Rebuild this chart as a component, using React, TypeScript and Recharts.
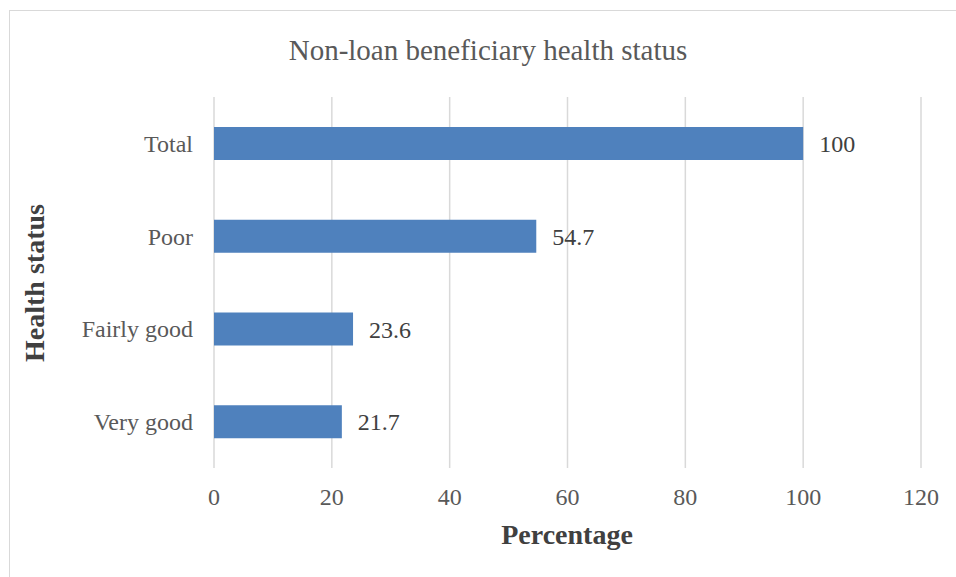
import React from 'react';
import { BarChart, Bar, XAxis, YAxis, CartesianGrid, LabelList } from 'recharts';

const categories = ['Total', 'Poor', 'Fairly good', 'Very good'];
const values = [100, 54.7, 23.6, 21.7];
const xTicks = [0, 20, 40, 60, 80, 100, 120];

const data = categories.map((c, i) => ({ name: c, value: values[i] }));

const FONT = '"Liberation Serif", "Times New Roman", serif';

export default function App() {
  return (
    <div style={{ position: 'absolute', left: 0, top: 0, width: 956, height: 577, overflow: 'hidden', background: '#fff', fontFamily: FONT }}>
      <div style={{ position: 'absolute', left: 9, top: 10, width: 960, height: 580, border: '1px solid #d9d9d9', boxSizing: 'border-box' }} />
      <div style={{ position: 'absolute', left: 0, top: 50, width: 976, textAlign: 'center', fontSize: 29, lineHeight: '0px', color: '#595959' }}>
        Non-loan beneficiary health status
      </div>
      <div style={{ position: 'absolute', left: 0, top: 535, width: 1134, textAlign: 'center', fontSize: 28, lineHeight: '0px', fontWeight: 'bold', color: '#404040' }}>
        Percentage
      </div>
      <div style={{ position: 'absolute', left: 35, top: 283, transform: 'translate(-50%, -50%) rotate(-90deg)', whiteSpace: 'nowrap', fontSize: 28, lineHeight: '30px', fontWeight: 'bold', color: '#404040' }}>
        Health status
      </div>
      <div style={{ position: 'absolute', left: 0, top: 0 }}>
        <BarChart
          width={956}
          height={577}
          data={data}
          layout="vertical"
          margin={{ top: 97, right: 35, bottom: 59, left: 114 }}
        >
          <CartesianGrid horizontal={false} vertical={true} stroke="#d9d9d9" strokeWidth={1.5} />
          <XAxis
            type="number"
            domain={[0, 120]}
            ticks={xTicks}
            interval={0}
            axisLine={false}
            tickLine={false}
            tickSize={0}
            tickMargin={20}
            height={50}
            tick={{ fill: '#595959', fontSize: 24, fontFamily: FONT }}
          />
          <YAxis
            type="category"
            dataKey="name"
            width={100}
            axisLine={false}
            tickLine={false}
            tickSize={0}
            tickMargin={21}
            tick={{ fill: '#595959', fontSize: 24, fontFamily: FONT }}
          />
          <Bar dataKey="value" fill="#4F81BD" barSize={33} isAnimationActive={false}>
            <LabelList dataKey="value" position="right" offset={16} fill="#404040" fontSize={24} fontFamily={FONT} />
          </Bar>
        </BarChart>
      </div>
    </div>
  );
}
